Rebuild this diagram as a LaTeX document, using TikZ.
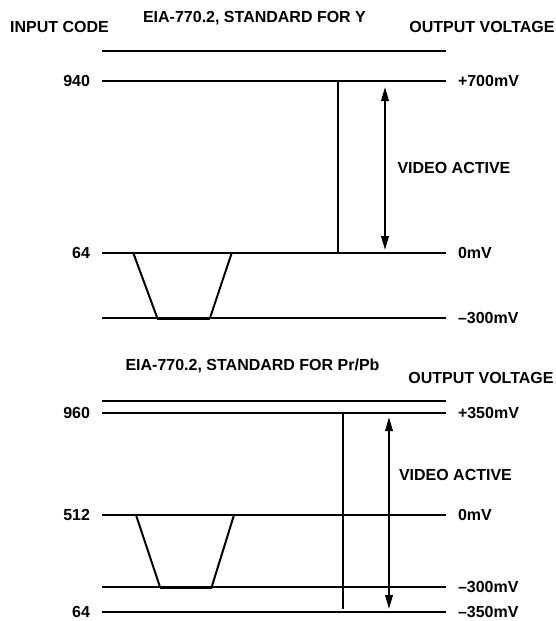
\documentclass[tikz,border=0pt]{standalone}
\usepackage{fontspec}
\setmainfont{Liberation Sans}
\usetikzlibrary{arrows.meta,positioning}

\begin{document}
\begin{tikzpicture}[x=1pt, y=-1pt,
    line width=2pt, >={Triangle[length=14pt,width=7.5pt]},
    lab/.style={font=\fontsize{16}{19}\selectfont\bfseries, inner sep=0pt},
    floor/.style={line width=3pt}]
  % fixed 556 x 621 canvas, y grows downwards
  \path[use as bounding box] (0,0) rectangle (556,621);

  % ================= 1) Y channel =================
  \node[lab, anchor=base] (inhead) at (59.5,32.5) {INPUT CODE};
  \node[lab, anchor=base] (ytitle) at (254.5,22.5) {EIA-770.2, STANDARD FOR Y};
  \node[lab, anchor=base] (youthead) at (482,32.5) {OUTPUT VOLTAGE};
  % level lines
  \foreach \n/\y in {ytop/51, y940/81, y64/253, yneg/318} {
    \coordinate (\n L) at (102,\y);
    \coordinate (\n R) at (446,\y);
    \draw (\n L) -- (\n R);
  }
  \node[lab, left=11pt of y940L] (c940) {940};
  \node[lab, left=11pt of y64L] (c64) {64};
  \node[lab, right=11pt of y940R] (v700) {+700mV};
  \node[lab, right=11pt of y64R] (v0) {0mV};
  \node[lab, right=11pt of ynegR] (v300) {–300mV};
  % sync pulse
  \draw (133.3,253) -- (157.3,318) (210,318) -- (231.7,253);
  \draw[floor] (157.3,318) -- (210,318);
  % active range
  \coordinate (ybarT) at (338,81);
  \coordinate (ybarB) at (338,253);
  \draw (ybarT) -- (ybarB);
  \coordinate (yarrT) at (385,87);
  \coordinate (yarrB) at (385,250);
  \draw[<->] (yarrT) -- (yarrB);
  \node[lab, anchor=base west] (yact) at (396.5,173) {VIDEO ACTIVE};

  % ================= 2) Pr/Pb channel =================
  \node[lab, anchor=base] (ctitle) at (252.5,370.5) {EIA-770.2, STANDARD FOR Pr/Pb};
  \node[lab, anchor=base] (couthead) at (481,383.5) {OUTPUT VOLTAGE};
  % level lines
  \foreach \n/\y in {ctop/401, c960/413, c512/515, cneg/587, c64/612} {
    \coordinate (\n L) at (102,\y);
    \coordinate (\n R) at (446,\y);
    \draw (\n L) -- (\n R);
  }
  \node[lab, left=11pt of c960L] (k960) {960};
  \node[lab, left=11pt of c512L] (k512) {512};
  \node[lab, left=11pt of c64L] (k64) {64};
  \node[lab, right=11pt of c960R] (w350) {+350mV};
  \node[lab, right=11pt of c512R] (w0) {0mV};
  \node[lab, right=11pt of cnegR] (w300) {–300mV};
  \node[lab, right=11pt of c64R] (w350n) {–350mV};
  % sync pulse
  \draw (136,515) -- (160,587) (211.7,587) -- (234,515);
  \draw[floor] (160,587) -- (211.7,587);
  % active range
  \coordinate (cbarT) at (343,413);
  \coordinate (cbarB) at (343,609);
  \draw (cbarT) -- (cbarB);
  \coordinate (carrT) at (389,417);
  \coordinate (carrB) at (389,609);
  \draw[<->] (carrT) -- (carrB);
  \node[lab, anchor=base west] (cact) at (398,480) {VIDEO ACTIVE};
\end{tikzpicture}
\end{document}
